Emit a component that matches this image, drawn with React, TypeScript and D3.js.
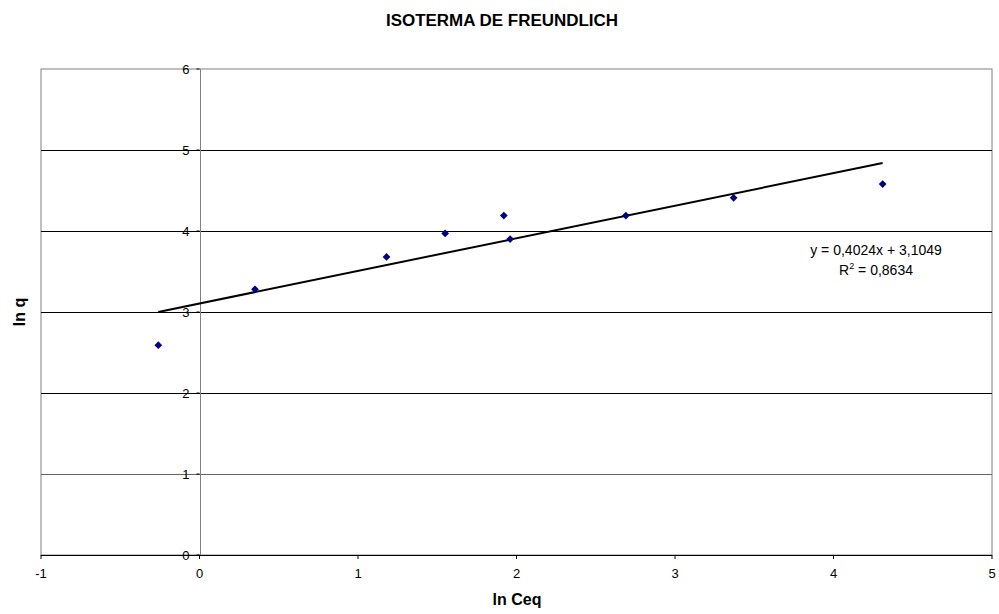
import * as d3 from 'd3';
import React from 'react';

// ln Ceq vs ln q
const lnCeq = [-0.26, 0.35, 1.18, 1.55, 1.92, 1.96, 2.69, 3.37, 4.31];
const lnQ = [2.59, 3.28, 3.68, 3.97, 4.19, 3.90, 4.19, 4.41, 4.58];
const xTicks = [-1, 0, 1, 2, 3, 4, 5];
const yTicks = [0, 1, 2, 3, 4, 5, 6];
const slope = 0.4024;
const intercept = 3.1049;

const W = 999;
const H = 614;
const margin = { left: 41, right: 7, top: 69, bottom: 59 };

export default function App() {
    const x = d3.scaleLinear().domain([-1, 5]).range([margin.left, W - margin.right]);
    const y = d3.scaleLinear().domain([0, 6]).range([H - margin.bottom, margin.top]);

    const xExt = d3.extent(lnCeq) as [number, number];
    const trend = d3.line<number>()
        .x((d) => x(d))
        .y((d) => y(slope * d + intercept));

    // square turned 45deg -> even diamond like the Excel marker
    const marker = d3.symbol().type(d3.symbolSquare).size(30)();
    const font = 'Arial, "Liberation Sans", sans-serif';

    return (
        <svg
            width={W}
            height={H}
            style={{ position: 'absolute', left: 0, top: 0, background: '#fff' }}
            fontFamily={font}
        >
            <text
                x={502}
                y={26}
                textAnchor="middle"
                fontSize={16}
                fontWeight="bold"
                textLength={232}
                lengthAdjust="spacingAndGlyphs"
            >
                ISOTERMA DE FREUNDLICH
            </text>

            {/* plot frame */}
            <rect
                x={x(-1)}
                y={y(6)}
                width={x(5) - x(-1)}
                height={y(0) - y(6)}
                fill="none"
                stroke="#808080"
                strokeWidth={1}
            />

            {/* horizontal gridlines */}
            {yTicks.filter((t) => t > 0 && t < 6).map((t) => (
                <line
                    key={'g' + t}
                    x1={x(-1)}
                    x2={x(5)}
                    y1={Math.round(y(t)) + 0.5}
                    y2={Math.round(y(t)) + 0.5}
                    stroke={t === 1 ? '#666' : '#000'}
                    strokeWidth={1}
                />
            ))}

            {/* y axis at x = 0 */}
            <line x1={Math.round(x(0)) + 0.5} x2={Math.round(x(0)) + 0.5} y1={y(6)} y2={y(0)} stroke="#808080" />
            {yTicks.map((t) => (
                <g key={'y' + t}>
                    <line x1={x(0) - 3} x2={x(0)} y1={y(t)} y2={y(t)} stroke="#000" />
                    <text x={x(0) - 10} y={y(t) + 4.7} textAnchor="end" fontSize={13}>
                        {t}
                    </text>
                </g>
            ))}

            {/* x axis at y = 0 */}
            <line x1={x(-1)} x2={x(5)} y1={Math.round(y(0)) + 0.5} y2={Math.round(y(0)) + 0.5} stroke="#000" />
            {xTicks.map((t) => (
                <g key={'x' + t}>
                    <line x1={x(t)} x2={x(t)} y1={y(0)} y2={y(0) + 4} stroke="#000" />
                    <text x={x(t)} y={y(0) + 23} textAnchor="middle" fontSize={13}>
                        {t}
                    </text>
                </g>
            ))}

            {/* trendline */}
            <path d={trend(xExt) || ''} fill="none" stroke="#000" strokeWidth={2} />

            {/* points */}
            {lnCeq.map((v, i) => (
                <path
                    key={'p' + i}
                    d={marker || ''}
                    transform={`translate(${x(v)},${y(lnQ[i])}) rotate(45)`}
                    fill="#000080"
                />
            ))}

            <text x={876} y={255} textAnchor="middle" fontSize={14}>
                y = 0,4024x + 3,1049
            </text>
            <text x={876} y={275} textAnchor="middle" fontSize={14}>
                R<tspan dy={-6} fontSize={9}>2</tspan>
                <tspan dy={6}> = 0,8634</tspan>
            </text>

            <text x={517} y={605} textAnchor="middle" fontSize={16} fontWeight="bold">
                ln Ceq
            </text>
            <text
                transform={`translate(25,${(y(0) + y(6)) / 2}) rotate(-90)`}
                textAnchor="middle"
                fontSize={16}
                fontWeight="bold"
            >
                ln q
            </text>
        </svg>
    );
}
